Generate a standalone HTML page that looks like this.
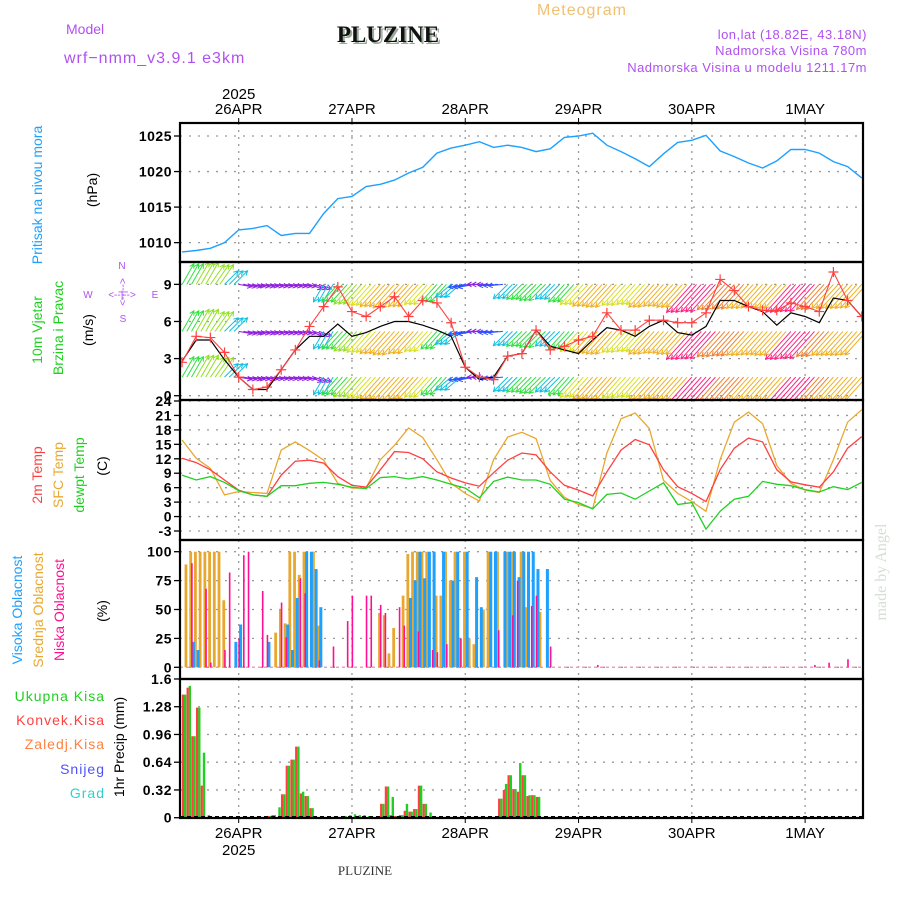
<!DOCTYPE html>
<html><head><meta charset="utf-8"><style>
html,body{margin:0;padding:0;background:#fff;}
svg{display:block;font-family:"Liberation Sans",sans-serif;}
</style></head><body>
<svg id="chart" width="900" height="900" viewBox="0 0 900 900" xmlns="http://www.w3.org/2000/svg">
<g id="header">
<text x="582" y="15" font-size="16" fill="#f0c070" text-anchor="middle" letter-spacing="1">Meteogram</text>
<text x="66" y="34" font-size="14" fill="#b050f0">Model</text>
<text x="64" y="63" font-size="16" fill="#b050f0" letter-spacing="1">wrf−nmm_v3.9.1 e3km</text>
<text x="390" y="44" font-size="23" font-weight="bold" fill="#9a9" text-anchor="middle" font-family="Liberation Serif,serif">PLUZINE</text>
<text x="388" y="42" font-size="23" font-weight="bold" fill="#111" text-anchor="middle" font-family="Liberation Serif,serif">PLUZINE</text>
<text x="867" y="39" font-size="13" fill="#b050f0" text-anchor="end" letter-spacing="0.5">lon,lat (18.82E, 43.18N)</text>
<text x="867" y="55" font-size="13" fill="#b050f0" text-anchor="end" letter-spacing="0.5">Nadmorska Visina 780m</text>
<text x="867" y="72" font-size="13" fill="#b050f0" text-anchor="end" letter-spacing="0.5">Nadmorska Visina u modelu 1211.17m</text>
</g>
<g id="labels" font-size="14">
<text transform="translate(42,195) rotate(-90)" text-anchor="middle" fill="#1ea0ff">Pritisak na nivou mora</text>
<text transform="translate(97,190) rotate(-90)" text-anchor="middle" fill="#000">(hPa)</text>
<text transform="translate(42,330) rotate(-90)" text-anchor="middle" fill="#20d020">10m Vjetar</text>
<text transform="translate(63,328) rotate(-90)" text-anchor="middle" fill="#20d020">Brzina i Pravac</text>
<text transform="translate(93,330) rotate(-90)" text-anchor="middle" fill="#000">(m/s)</text>
<text x="122" y="269" font-size="10" fill="#b050f0" text-anchor="middle">N</text>
<text x="88" y="298" font-size="10" fill="#b050f0" text-anchor="middle">W</text>
<text x="155" y="298" font-size="10" fill="#b050f0" text-anchor="middle">E</text>
<text x="123" y="322" font-size="10" fill="#b050f0" text-anchor="middle">S</text>
<text x="122" y="298" font-size="10" fill="#b050f0" text-anchor="middle">&lt;--|--&gt;</text>
<text transform="translate(126,292) rotate(-90)" font-size="10" fill="#b050f0" text-anchor="middle">&lt;--|--&gt;</text>
<text transform="translate(42,475) rotate(-90)" text-anchor="middle" fill="#ff4040">2m Temp</text>
<text transform="translate(63,475) rotate(-90)" text-anchor="middle" fill="#e8a830">SFC Temp</text>
<text transform="translate(84,475) rotate(-90)" text-anchor="middle" fill="#20d020">dewpt Temp</text>
<text transform="translate(107,466) rotate(-90)" text-anchor="middle" fill="#000">(C)</text>
<text transform="translate(22,610) rotate(-90)" text-anchor="middle" fill="#1ea0ff">Visoka Oblacnost</text>
<text transform="translate(43,610) rotate(-90)" text-anchor="middle" fill="#e8a830">Srednja Oblacnost</text>
<text transform="translate(64,610) rotate(-90)" text-anchor="middle" fill="#ff1090">Niska Oblacnost</text>
<text transform="translate(107,611) rotate(-90)" text-anchor="middle" fill="#000">(%)</text>
<text x="105" y="701" text-anchor="end" fill="#20d020" letter-spacing="1">Ukupna  Kisa</text>
<text x="105" y="725" text-anchor="end" fill="#ff4040" letter-spacing="1">Konvek.Kisa</text>
<text x="105" y="749" text-anchor="end" fill="#ff8040" letter-spacing="1">Zaledj.Kisa</text>
<text x="105" y="774" text-anchor="end" fill="#5050ff" letter-spacing="1">Snijeg</text>
<text x="105" y="798" text-anchor="end" fill="#30d0d0" letter-spacing="1">Grad</text>
<text transform="translate(124,747) rotate(-90)" text-anchor="middle" fill="#000">1hr Precip (mm)</text>
<text transform="translate(886,572) rotate(-90)" text-anchor="middle" font-size="16" fill="#d4e0d4" font-family="Liberation Serif,serif">made by Angel</text>
<text x="365" y="875" text-anchor="middle" font-size="13" fill="#333" font-family="Liberation Serif,serif">PLUZINE</text>
</g>
<g id="plot"></g>
</svg>
<script>
// ---------- data ----------
const dayLabels = ["26APR","27APR","28APR","29APR","30APR","1MAY"];
const dayHours = [0,24,48,72,96,120];
const hours3 = [-12,-9,-6,-3,0,3,6,9,12,15,18,21,24,27,30,33,36,39,42,45,48,51,54,57,60,63,66,69,72,75,78,81,84,87,90,93,96,99,102,105,108,111,114,117,120,123,126,129,132];
const pressure = [1008.7,1008.9,1009.2,1010,1011.8,1012,1012.4,1011,1011.3,1011.3,1014.1,1016.2,1016.5,1017.9,1018.2,1018.8,1019.8,1020.6,1022.6,1023.3,1023.7,1024.2,1023.4,1023.7,1023.4,1022.8,1023.2,1024.8,1025,1025.4,1023.7,1022.8,1021.8,1020.7,1022.5,1024.1,1024.4,1025.1,1022.9,1022.1,1021.2,1020.5,1021.5,1023.1,1023.1,1022.6,1021.4,1020.7,1019.1];
const windSpeed = [2.8,4.5,4.5,2.9,1.5,0.5,0.5,2.1,3.7,4.8,4.8,5.8,4.8,5.1,5.6,6,6,5.7,5.3,4.8,2.3,1.3,1.5,3.2,3.4,5.3,4,3.7,3.4,4.5,5.5,5.3,4.8,5.6,6.1,5.1,4.9,5.6,7.7,7.7,7.2,6.8,5.7,6.7,6.4,5.9,7.9,7.7,6.4];
const windGust = [2.7,4.8,4.7,3.5,1.5,0.5,0.7,2.1,3.7,5.6,7.2,8.8,6.8,6.4,7.2,8,6.4,7.7,7.5,5.9,2.3,1.5,1.3,3.2,3.4,5.3,3.7,4,4.5,4.8,6.7,5.3,5.3,6.1,6.1,5.9,5.9,6.7,9.4,8.5,7.2,6.9,6.9,7.5,7.2,6.8,10,7.7,6.4];
const windDir = [30,30,35,45,100,100,100,100,100,110,210,222,222,222,222,222,222,222,222,230,260,270,265,225,225,225,225,222,222,222,222,222,222,222,222,222,222,222,222,222,222,222,222,222,222,222,222,222,222];
const arrowSpeed = [4.5,5,4.6,3.2,1.5,1.2,1,1,1,1.5,3.5,4.5,5.3,5.8,6.3,6.8,6.3,5.5,4.5,3.5,2.5,1.2,2,3.5,3.8,4.3,3.7,4.5,5.5,6.2,6.5,5.8,5.5,6.5,6.2,6.6,8.5,8.3,7.5,7.2,7,6.8,7,8.5,8.2,7.4,7,7,6.8];
const temp2m = [12.1,11.2,9.7,7.6,5.5,4.5,4.2,8.6,11.5,11.7,11.1,8.3,6.5,6.1,9.7,13.5,13.3,12,9.3,8,7,6.3,9.1,11.7,13.2,12.8,9.3,6.5,5.5,4.3,9.3,13.8,16,14.9,9.7,6.2,4.8,3.1,9.7,14.2,16.3,15.5,9.7,7.2,6.6,6.1,9.3,14.2,16.6];
const tempSfc = [15.9,12.1,10,4.5,5.2,5,4.8,13.8,15.5,13.7,11.7,6.9,5.9,5.9,11.8,14.8,18.4,16.4,11.8,6.9,4.8,3.2,11.8,16.5,17.5,16.2,7.5,4,2.5,1.7,13.2,20.3,21.5,18.3,7.5,4.8,3.1,1.1,11.8,19.6,21.7,19.3,10.6,6.9,5.5,5,11.8,19.6,22.2];
const dewpoint = [8.6,7.6,8.3,7.1,5.4,4.5,4.2,6.4,6.4,6.9,7.1,6.7,6.1,5.8,8.1,8.3,7.8,8.3,7.6,6.7,5.9,3.9,7.3,8.2,7.6,7.6,6.7,3.6,2.9,1.6,4.6,4.9,3.6,5.3,7,2.5,2.9,-2.6,1.1,3.6,4.2,7.3,6.7,6.4,5.6,5.1,6.2,5.6,7.1];
const cloudStart = -11;
const cloudHigh = [0,22,15,0,0,0,0,0,0,0,22,37,0,0,0,0,0,22,0,0,0,37,15,60,0,100,100,85,52,0,0,0,0,0,0,0,0,0,0,0,0,0,0,0,0,0,0,60,75,100,77,100,100,0,100,0,75,100,0,100,0,78,52,0,100,100,0,100,100,100,78,100,100,100,85,0,85,0];
const cloudMid = [89,100,100,100,100,100,100,100,58,0,0,0,0,0,0,0,0,0,0,30,50,38,100,100,80,100,0,100,36,0,0,0,0,0,0,0,0,0,0,0,0,47,45,12,34,0,62,98,100,100,100,100,0,62,62,100,75,100,25,100,25,20,0,50,100,0,100,0,100,100,0,100,52,0,0,48,0,0];
const cloudLow = [0,90,0,0,68,4,0,0,15,82,0,25,97,100,0,0,66,28,0,0,56,26,0,0,77,64,0,0,6,0,0,18,0,0,40,62,0,0,62,62,0,54,47,0,0,52,36,0,0,31,0,0,15,13,0,20,0,0,25,0,0,0,0,0,0,0,32,0,0,45,75,0,0,53,62,0,0,18];
const lowExtraHours = [76,122,125,129];
const lowExtraValues = [2,2,4,7];
const precipHours = [-12,-11,-10,-9,-8,-7,6,7,8,9,10,11,12,13,14,15,22,23,24,25,26,27,30,31,32,33,34,35,36,37,38,39,40,55,56,57,58,59,60,61,62,63];
const precipTotal = [1.42,1.52,0.94,1.27,0.75,0.03,0.02,0.03,0.12,0.27,0.6,0.67,0.82,0.3,0.25,0.11,0.02,0.03,0.04,0.03,0.03,0.02,0.16,0.36,0.24,0.02,0.03,0.16,0.07,0.1,0.37,0.16,0.06,0.22,0.39,0.49,0.33,0.63,0.49,0.26,0.26,0.24];
const precipConv = [1.42,1.5,0.94,1.27,0.37,0,0.02,0.03,0,0.27,0.6,0.67,0.82,0.28,0.25,0.11,0,0,0,0,0,0,0.16,0.36,0.03,0.02,0.03,0.08,0.07,0.1,0.37,0.16,0,0.22,0.32,0.49,0.33,0.3,0.49,0.25,0.26,0.24];
const pTicks = [1010,1015,1020,1025];
const wTicks = [0,3,6,9];
const tTicks = [-3,0,3,6,9,12,15,18,21,24];
const cTicks = [0,25,50,75,100];
const rTicks = [0,0.32,0.64,0.96,1.28,1.6];
const rTickLabels = ["0","0.32","0.64","0.96","1.28","1.6"];

// ---------- scales ----------
const L = 180, R = 863;
const X = t => 238.7 + t * 4.72;
const yP = v => 136 + (1025 - v) * 7.11;
const yW = v => 395.7 - v * 12.37;
const yT = v => 531 - (v + 3) * 4.815;
const yC = v => 667.3 - v * 1.156;
const yR = v => 817.7 - v * 86.7;
const panels = [[123,262],[262,400],[400,540],[540,679],[679,818]];

const NS = "http://www.w3.org/2000/svg";
const plot = document.getElementById('plot');
function mk(tag, attrs, parent) {
  const e = document.createElementNS(NS, tag);
  for (const k in attrs) e.setAttribute(k, attrs[k]);
  (parent || plot).appendChild(e);
  return e;
}
function clipFor(i) {
  const [a, b] = panels[i];
  const cp = mk('clipPath', {id: 'clip' + i});
  mk('rect', {x: L, y: a, width: R - L, height: b - a}, cp);
  const g = mk('g', {'clip-path': 'url(#clip' + i + ')'});
  return g;
}

// grid
const grid = mk('g', {});


panels.forEach(([a, b]) => {
  dayHours.forEach(h => {
    const gl = mk('line', {x1: X(h), x2: X(h), y1: a, y2: b, stroke: '#999', 'stroke-width': 1.3, 'stroke-dasharray': '2,5'}, grid);
    
    
  });
});
function hgrid(ticks, fy, labels, name) {
  ticks.forEach((v, i) => {
    const y = fy(v);
    const gl = mk('line', {x1: L, x2: R, y1: y, y2: y, stroke: '#999', 'stroke-width': 1.3, 'stroke-dasharray': '2,7'}, grid);
    
    
    mk('line', {x1: L - 6, x2: L, y1: y, y2: y, stroke: '#000', 'stroke-width': 1.3}, grid);
    const tx = mk('text', {x: L - 8, y: y + 5, 'text-anchor': 'end', 'font-size': 14, fill: '#000', 'letter-spacing': '0.5', 'font-weight': 'bold'}, grid);
    
    
    tx.textContent = labels ? labels[i] : String(v);
  });
}
hgrid(pTicks, yP, null, 'pressure');
hgrid(wTicks, yW, null, 'wind');
hgrid(tTicks, yT, null, 'temp');
hgrid(cTicks, yC, null, 'cloud');
hgrid(rTicks, yR, rTickLabels, 'precip');

function linePath(arr, fy) { return hours3.map((h, i) => (i ? 'L' : 'M') + X(h).toFixed(1) + ',' + fy(arr[i]).toFixed(1)).join(''); }
const g0 = clipFor(0);
const pl = mk('path', {d: linePath(pressure, yP), fill: 'none', stroke: '#1ea0ff', 'stroke-width': 1.4}, g0);



// wind panel
const g1 = clipFor(1);
function speedColor(s) {
  if (s < 1.8) return '#9020e0';
  if (s < 2.8) return '#3050ff';
  if (s < 3.8) return '#10c0e0';
  if (s < 4.6) return '#30e040';
  if (s < 5.4) return '#90e020';
  if (s < 6.2) return '#d8e020';
  if (s < 7.2) return '#f0b020';
  if (s < 7.9) return '#f08030';
  return '#ff2080';
}
const rowLevels = [9, 5.2, 1.5];
const arrows = mk('g', {'stroke-width': 1}, g1);


rowLevels.forEach(lv => {
  const by = yW(lv);
  hours3.forEach((h, i) => {
    for (let k = 0; k < 3; k++) {
      const x = X(h + k);
      if (x > R + 5) continue;
      const s = arrowSpeed[i];
      const len = 8 + s * 3.5;
      const a = windDir[i] * Math.PI / 180;
      const ex = x + len * Math.sin(a), ey = by - len * Math.cos(a);
      const c = speedColor(s);
      const ar = mk('path', {d: `M${x.toFixed(1)},${by.toFixed(1)}L${ex.toFixed(1)},${ey.toFixed(1)}` +
        `M${(ex - 5 * Math.sin(a - 0.5)).toFixed(1)},${(ey + 5 * Math.cos(a - 0.5)).toFixed(1)}L${ex.toFixed(1)},${ey.toFixed(1)}L${(ex - 5 * Math.sin(a + 0.5)).toFixed(1)},${(ey + 5 * Math.cos(a + 0.5)).toFixed(1)}`,
        fill: 'none', stroke: c}, arrows);
      
      
    }
  });
});
const ws = mk('path', {d: linePath(windSpeed, yW), fill: 'none', stroke: '#000', 'stroke-width': 1.2}, g1);


const wg = mk('path', {d: linePath(windGust, yW), fill: 'none', stroke: '#ff4040', 'stroke-width': 1.1}, g1);


hours3.forEach((h, i) => {
  const x = X(h), y = yW(windGust[i]);
  const m = mk('path', {d: `M${x - 5},${y}h10M${x},${y - 5}v10`, stroke: '#ff4040', 'stroke-width': 1.2}, g1);
  
  
});

// temperature
const g2 = clipFor(2);
[[tempSfc, '#e8a830', 'sfc-temp-line'], [temp2m, '#ff4040', 'temp-2m-line'], [dewpoint, '#20d020', 'dewpoint-line']].forEach(([arr, c, n]) => {
  const p = mk('path', {d: linePath(arr, yT), fill: 'none', stroke: c, 'stroke-width': 1.3}, g2);
  
  
});

// clouds
const g3 = clipFor(3);
const zl = mk('line', {x1: L, x2: R, y1: yC(0), y2: yC(0), stroke: '#e8a0c0', 'stroke-width': 1.5, 'stroke-dasharray': '3,3'}, g3);


cloudMid.forEach((v, i) => {
  if (!v) return;
  const x = X(cloudStart + i);
  const b = mk('rect', {x: x - 2.2, y: yC(v), width: 2.8, height: yC(0) - yC(v), fill: '#e8a830'}, g3);
  
  
});
cloudHigh.forEach((v, i) => {
  if (!v) return;
  const x = X(cloudStart + i);
  const b = mk('rect', {x: x + 0.4, y: yC(v), width: 3, height: yC(0) - yC(v), fill: '#1ea0ff'}, g3);
  
  
});
cloudLow.forEach((v, i) => {
  if (!v) return;
  const x = X(cloudStart + i);
  const b = mk('rect', {x: x - 0.4, y: yC(v), width: 1.6, height: yC(0) - yC(v), fill: '#ff1090'}, g3);
  
  
});
lowExtraHours.forEach((h, i) => {
  const v = lowExtraValues[i];
  const b = mk('rect', {x: X(h) - 0.4, y: yC(v), width: 1.6, height: yC(0) - yC(v), fill: '#ff1090'}, g3);
  
  
});

// precipitation
const g4 = clipFor(4);
precipHours.forEach((h, i) => {
  const x = X(h + 0.5);
  const tv = precipTotal[i], cv = precipConv[i];
  const gb = mk('rect', {x: x - 0.5, y: yR(tv), width: 2.4, height: yR(0) - yR(tv), fill: '#20d020'}, g4);
  
  
  if (cv > 0) {
    const rb = mk('rect', {x: x - 2.6, y: yR(cv), width: 2.2, height: yR(0) - yR(cv), fill: '#ff4040'}, g4);
    
    
  }
});
mk('line', {x1: L, x2: R, y1: yR(0) - 1, y2: yR(0) - 1, stroke: '#000', 'stroke-width': 1.5, 'stroke-dasharray': '4,3'}, g4);

// frames
panels.forEach(([a, b], i) => {
  const f = mk('rect', {x: L, y: a, width: R - L, height: b - a, fill: 'none', stroke: '#000', 'stroke-width': 2.2});
  
  
});
dayHours.forEach((h, i) => {
  const x = X(h);
  mk('line', {x1: x, x2: x, y1: 118, y2: 123, stroke: '#000'});
  mk('line', {x1: x, x2: x, y1: 818, y2: 823, stroke: '#000'});
  const t1 = mk('text', {x: x, y: 114, 'text-anchor': 'middle', 'font-size': 15, fill: '#000'});
  
  
  t1.textContent = dayLabels[i];
  const t2 = mk('text', {x: x, y: 838, 'text-anchor': 'middle', 'font-size': 15, fill: '#000'});
  
  
  t2.textContent = dayLabels[i];
});
const y1 = mk('text', {x: X(0), y: 99, 'text-anchor': 'middle', 'font-size': 15, fill: '#000'});


y1.textContent = '2025';
const y2 = mk('text', {x: X(0), y: 855, 'text-anchor': 'middle', 'font-size': 15, fill: '#000'});


y2.textContent = '2025';
</script>
</body></html>
